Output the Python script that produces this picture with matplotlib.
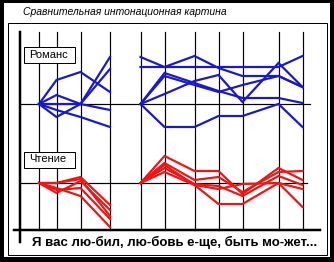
import matplotlib
matplotlib.use('Agg')
import matplotlib.pyplot as plt
from matplotlib.patches import Rectangle

plt.rcParams['font.family'] = ['Liberation Sans', 'DejaVu Sans']

# syllable positions along the time axis (one per syllable of the phrase)
syllable_pos = [39, 56.5, 80.5, 110, 140.5, 164.5, 194.5, 218.5, 242.5, 278.5, 302.5]
phrase1 = slice(0, 4)    # "Я вас лю-бил,"
phrase2 = slice(4, 11)   # "лю-бовь е-ще, быть мо-жет..."

# pitch deviation from the reference level (px-like units), romance performances
romance_p1 = [
    [0, 24, 32, 12],
    [0, 9, 0, 47],
    [0, -13, 0, 35],
    [0, 0, 0, -6],
    [0, -6, -13, -23],
]
romance_p2 = [
    [47, 37, 48, 36, 28, 28, 17],
    [37, 37, 37, 37, 37, 37, 48],
    [0, 31, 21, 13, 6, 6, 1],
    [0, 28, 19, 12, 19, 28, 17],
    [0, 10, 23, 29, 2, 41, 17],
    [0, -23, -23, -12, -12, 0, -23],
]

# reading performances
reading_p1 = [
    [0, 0, 6, -22],
    [0, -10, 2, -27],
    [0, 0, 4, -33],
    [0, -5, -13, -44],
    [0, -7, -5, -36],
]
reading_p2 = [
    [0, 27, 12, 12, -11, 15, 3],
    [0, 20, 3, 6, -9, 11, 12],
    [0, 18, -2, -6, -1, 0, -6],
    [0, 11, -2, -21, -21, 0, -24],
    [0, 15, -1, -3, -13, 7, -2],
]

title = 'Сравнительная интонационная картина'
lyrics = 'Я вас лю-бил, лю-бовь е-ще, быть мо-жет...'
label_romance = 'Романс'
label_reading = 'Чтение'

blue = '#1818d0'
red = '#f01414'

fig = plt.figure(figsize=(3.34, 2.62), dpi=100)
fig.patch.set_facecolor('black')
ax = fig.add_axes([0, 0, 1, 1])
ax.set_xlim(0, 334)
ax.set_ylim(262, 0)
ax.axis('off')

px = 0.72  # one pixel in points

# white card inside the thick black frame, and the thin inner frame
ax.add_patch(Rectangle((4, 3), 326, 254, facecolor='white', edgecolor='none', zorder=0))
ax.add_patch(Rectangle((7.5, 22.5), 319, 232, facecolor='none', edgecolor='black', lw=px, zorder=1))

ax.text(23, 12, title, fontsize=7.5, style='italic', va='center', ha='left')

# grid: vertical syllable lines, axes and reference levels
base_romance = 104
base_reading = 183
axis_y = 230
for x in syllable_pos:
    ax.plot([x, x], [32, axis_y], color='black', lw=px * 1.2, zorder=2)
ax.plot([20, 20], [32, 242], color='black', lw=px * 2.5, zorder=3)
ax.plot([14, 320], [axis_y, axis_y], color='black', lw=px * 2.5, zorder=3)
ax.plot([20, 310], [base_romance, base_romance], color='black', lw=px * 1.2, zorder=2)
ax.plot([20, 307], [base_reading, base_reading], color='black', lw=px * 1.2, zorder=2)

def draw(series, sl, base, color):
    xs = syllable_pos[sl]
    for s in series:
        ax.plot(xs, [base - v for v in s], color=color, lw=px * 2.2,
                solid_joinstyle='miter', zorder=4)

draw(romance_p1, phrase1, base_romance, blue)
draw(romance_p2, phrase2, base_romance, blue)
draw(reading_p1, phrase1, base_reading, red)
draw(reading_p2, phrase2, base_reading, red)

# labels in boxes
for y0, lab in [(46, label_romance), (151, label_reading)]:
    ax.add_patch(Rectangle((23.5, y0 + 0.5), 51, 16, facecolor='white', edgecolor='black', lw=px, zorder=5))
    ax.text(29, y0 + 8.5, lab, fontsize=8, va='center', ha='left', zorder=6)

ax.text(32, 242, lyrics, fontsize=9.5, fontweight='bold', va='center', ha='left', zorder=6)

fig.savefig('out.png', dpi=100, facecolor=fig.get_facecolor())
